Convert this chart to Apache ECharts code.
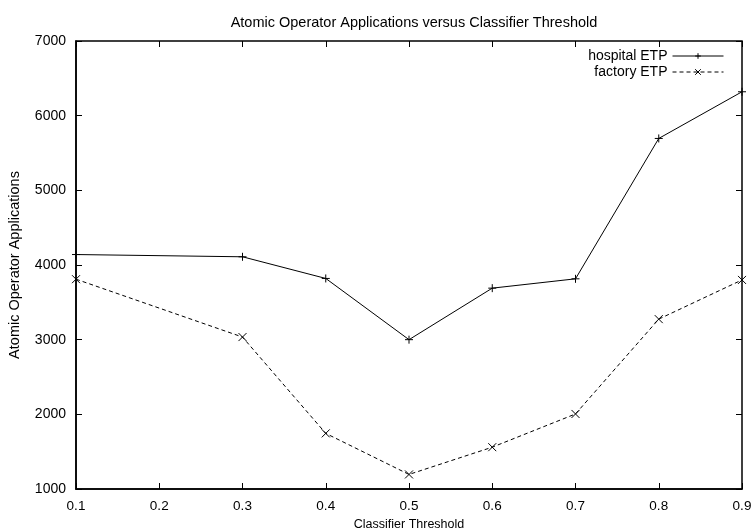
<!DOCTYPE html>
<html>
<head>
<meta charset="utf-8">
<script src="https://cdn.jsdelivr.net/npm/echarts@6/dist/echarts.min.js"></script>
<style>
  html, body { margin: 0; padding: 0; background: #fff; }
  #chart { width: 754px; height: 531px; }
</style>
</head>
<body>
<div id="chart"></div>
<script>
// classifier thresholds (no run at 0.2)
var thresholds = [0.1, 0.3, 0.4, 0.5, 0.6, 0.7, 0.8, 0.9];
var hospitalEtp = [4140, 4110, 3820, 3000, 3690, 3815, 5695, 6320];
var factoryEtp = [3810, 3035, 1745, 1195, 1560, 2005, 3275, 3800];

var font = "'Liberation Sans', Arial, sans-serif";
var plusSymbol = "path://M0,5L10,5M5,0L5,10";
var crossSymbol = "path://M0,0L10,10M0,10L10,0";

function pairs(xs, ys) {
  return xs.map(function (x, i) { return [x, ys[i]]; });
}

var chart = echarts.init(document.getElementById("chart"));

var tickStyle = { show: true, inside: true, length: 6, lineStyle: { color: "#000", width: 1 } };

var option = {
  animation: false,
  backgroundColor: "#fff",
  title: {
    text: "Atomic Operator Applications versus Classifier Threshold",
    left: 409,
    top: 10,
    textAlign: "center",
    textStyle: { fontFamily: font, fontSize: 14.5, fontWeight: "normal", color: "#000" }
  },
  legend: {
    orient: "vertical",
    right: 25,
    top: 44,
    align: "right",
    itemWidth: 51,
    itemHeight: 7,
    itemGap: 2,
    lineStyle: { width: 1 },
    itemStyle: { borderWidth: 1 },
    textStyle: { fontFamily: font, fontSize: 14, color: "#000" },
    data: ["hospital ETP", "factory ETP"]
  },
  grid: {
    left: 76,
    right: 12,
    top: 41,
    bottom: 42,
    outerBoundsMode: "none",
    containLabel: false,
    show: true,
    borderColor: "#000",
    borderWidth: 1.5
  },
  xAxis: [
    {
      type: "value",
      min: 0.1,
      max: 0.9,
      interval: 0.1,
      name: "Classifier Threshold",
      nameLocation: "middle",
      nameGap: 29,
      nameTextStyle: { fontFamily: font, fontSize: 12.5, color: "#000" },
      axisLine: { show: true, lineStyle: { color: "#000", width: 1.5 } },
      axisTick: tickStyle,
      splitLine: { show: false },
      axisLabel: {
        fontFamily: font, fontSize: 13.5, color: "#000", margin: 10,
        formatter: function (v) { return v.toFixed(1); }
      }
    },
    {
      type: "value",
      position: "top",
      min: 0.1,
      max: 0.9,
      interval: 0.1,
      axisLine: { show: false },
      axisTick: tickStyle,
      axisLabel: { show: false },
      splitLine: { show: false }
    }
  ],
  yAxis: [
    {
      type: "value",
      min: 1000,
      max: 7000,
      interval: 1000,
      name: "Atomic Operator Applications",
      nameLocation: "middle",
      nameGap: 54,
      nameTextStyle: { fontFamily: font, fontSize: 14.5, color: "#000" },
      axisLine: { show: true, lineStyle: { color: "#000", width: 1.5 } },
      axisTick: tickStyle,
      splitLine: { show: false },
      axisLabel: {
        fontFamily: font, fontSize: 14, color: "#000", margin: 10,
        formatter: function (v) { return String(v); }
      }
    },
    {
      type: "value",
      position: "right",
      min: 1000,
      max: 7000,
      interval: 1000,
      axisLine: { show: false },
      axisTick: tickStyle,
      axisLabel: { show: false },
      splitLine: { show: false }
    }
  ],
  series: [
    {
      name: "hospital ETP",
      type: "line",
      data: pairs(thresholds, hospitalEtp),
      symbol: plusSymbol,
      symbolSize: 8,
      showAllSymbol: true,
      lineStyle: { color: "#000", width: 1, type: "solid" },
      itemStyle: { color: "#000", borderColor: "#000", borderWidth: 1 }
    },
    {
      name: "factory ETP",
      type: "line",
      data: pairs(thresholds, factoryEtp),
      symbol: crossSymbol,
      symbolSize: 8,
      showAllSymbol: true,
      lineStyle: { color: "#000", width: 1, type: [4, 3] },
      itemStyle: { color: "#000", borderColor: "#000", borderWidth: 1 }
    }
  ]
};

chart.setOption(option);
</script>
</body>
</html>
